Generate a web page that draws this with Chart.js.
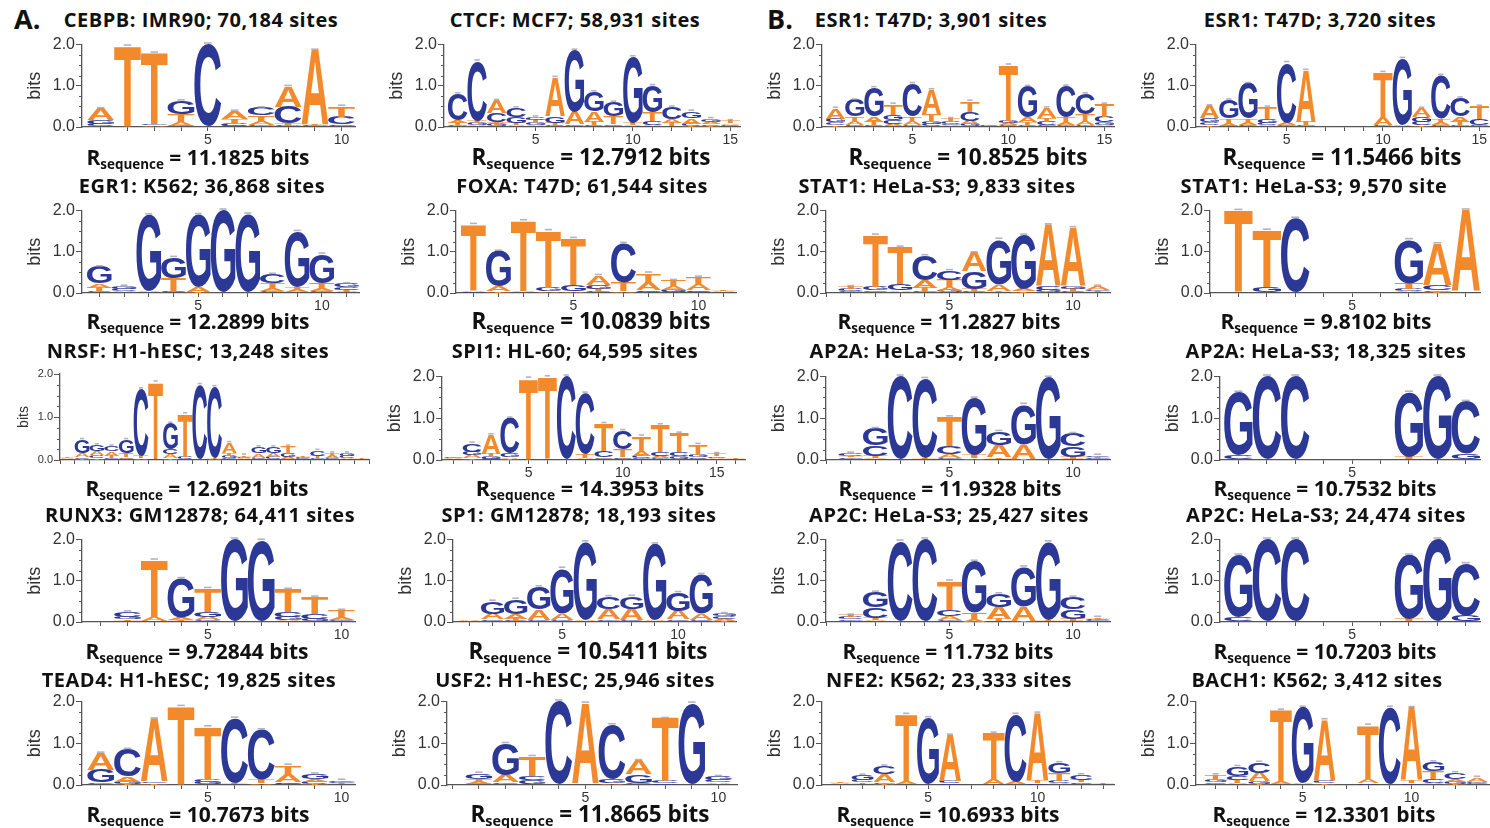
<!DOCTYPE html>
<html>
<head>
<meta charset="utf-8">
<script src="https://cdn.jsdelivr.net/npm/chart.js@4.4.1/dist/chart.umd.min.js"></script>
<style>
  html, body { margin: 0; padding: 0; background: #fff; }
  body { width: 1490px; height: 828px; position: relative; overflow: hidden; font-family: "Open Sans", sans-serif; color: #111; }
  canvas { position: absolute; }
  .ttl { position: absolute; transform: translate(-50%, -50%); white-space: nowrap; font-weight: 700; font-size: 20px; letter-spacing: 0.5px; line-height: 1; }
  .rs { position: absolute; transform: translate(-50%, -50%); white-space: nowrap; font-weight: 700; line-height: 1; }
  .rs sub { font-size: 0.64em; vertical-align: -0.3em; line-height: 0; }
  .pl { position: absolute; font-weight: 700; font-size: 27px; line-height: 1; transform: translateY(-50%); }
</style>
</head>
<body>
<div class="pl" style="left:14px; top:18px;">A.</div>
<div class="pl" style="left:767px; top:18px;">B.</div>
<script>
// Information content (bits) per position, columns ordered [A, C, G, T]
const cebpbIMR90 = [
  [0.28,0.06,0.08,0.02],[0.01,0.01,0.01,1.93],[0.03,0.01,0.03,1.72],[0.10,0.03,0.33,0.17],[0.01,1.98,0.01,0.01],
  [0.18,0.07,0.03,0.10],[0.08,0.18,0.04,0.16],[0.50,0.40,0.03,0.05],[1.80,0.02,0.02,0.02],[0.03,0.18,0.04,0.25]
];
const ctcfMCF7 = [
  [0.06,0.65,0.04,0.05],[0.05,1.45,0.05,0.05],[0.30,0.22,0.06,0.06],[0.05,0.22,0.14,0.05],[0.05,0.07,0.06,0.06],
  [0.95,0.05,0.15,0.05],[0.30,0.03,1.50,0.03],[0.25,0.04,0.48,0.08],[0.04,0.03,0.35,0.18],[0.03,0.02,1.60,0.05],
  [0.05,0.10,0.65,0.20],[0.10,0.28,0.02,0.08],[0.13,0.05,0.17,0.03],[0.06,0.04,0.07,0.03],[0.04,0.03,0.02,0.06]
];
const esr1T47D_3901 = [
  [0.25,0.07,0.08,0.05],[0.08,0.05,0.40,0.12],[0.12,0.05,0.70,0.08],[0.08,0.10,0.12,0.25],[0.08,0.80,0.05,0.12],
  [0.60,0.06,0.06,0.18],[0.04,0.06,0.04,0.06],[0.08,0.22,0.07,0.25],[0.01,0.02,0.01,0.01],[0.05,0.04,0.06,1.35],
  [0.12,0.05,0.75,0.06],[0.25,0.08,0.05,0.08],[0.07,0.75,0.05,0.12],[0.08,0.50,0.04,0.18],[0.04,0.14,0.07,0.30]
];
const esr1T47D_3720 = [
  [0.30,0.06,0.10,0.05],[0.07,0.03,0.45,0.10],[0.06,0.04,0.85,0.10],[0.04,0.06,0.10,0.28],[0.05,1.45,0.03,0.03],
  [1.25,0.02,0.02,0.08],[0,0,0,0],[0,0,0,0],[0,0,0,0],[0.18,0.02,0.02,1.10],
  [0.04,0.01,1.60,0.01],[0.20,0.08,0.12,0.05],[0.06,1.05,0.04,0.10],[0.12,0.45,0.05,0.08],[0.02,0.15,0.03,0.30]
];
const egr1K562 = [
  [0.10,0.05,0.40,0.08],[0.03,0.05,0.06,0.02],[0.02,0.01,1.85,0.01],[0.03,0.03,0.50,0.30],[0.12,0.01,1.75,0.02],
  [0.01,0.01,1.98,0.01],[0.01,0.01,1.88,0.01],[0.07,0.22,0.04,0.12],[0.05,0.02,1.35,0.07],[0.05,0.04,0.70,0.15],
  [0.03,0.06,0.08,0.05]
];
const foxaT47D = [
  [0.03,0.01,0.02,1.60],[0.12,0.01,0.85,0.03],[0.03,0.01,0.01,1.70],[0.04,0.01,0.08,1.38],[0.04,0.01,0.15,1.12],
  [0.22,0.04,0.10,0.06],[0.04,0.95,0.01,0.20],[0.18,0.03,0.04,0.23],[0.08,0.03,0.05,0.14],[0.14,0.03,0.03,0.18],
  [0.02,0.01,0.01,0.02]
];
const stat1HeLa_9833 = [
  [0.02,0.05,0.03,0.05],[0.04,0.03,0.08,1.25],[0.04,0.02,0.15,0.90],[0.18,0.60,0.04,0.08],[0.08,0.22,0.06,0.18],
  [0.45,0.04,0.42,0.06],[0.15,0.02,1.10,0.03],[0.06,0.01,1.30,0.03],[1.50,0.08,0.05,0.02],[1.42,0.04,0.07,0.05],
  [0.08,0.02,0.04,0.02]
];
const stat1HeLa_9570 = [
  [0.01,0.01,0.01,1.97],[0.01,0.01,0.13,1.37],[0.01,1.78,0.01,0.01],[0,0,0,0],[0,0,0,0],
  [0,0,0,0],[0.04,0.05,1.05,0.15],[1.00,0.12,0.04,0.03],[1.98,0.01,0.01,0.01]
];
const nrsfH1 = [
  [0.02,0.01,0.01,0.02],[0.10,0.04,0.30,0.03],[0.08,0.07,0.15,0.05],[0.10,0.12,0.04,0.06],[0.04,0.03,0.30,0.10],
  [0.04,1.55,0.01,0.05],[0.01,0.01,0.01,1.78],[0.08,0.12,0.60,0.05],[0.01,0.05,0.01,1.00],[0.01,1.72,0.01,0.01],
  [0.02,1.65,0.01,0.02],[0.25,0.04,0.05,0.06],[0.03,0.03,0.02,0.03],[0.10,0.03,0.15,0.02],[0.08,0.05,0.15,0.02],
  [0.05,0.02,0.08,0.17],[0.02,0.02,0.02,0.02],[0.02,0.12,0.03,0.05],[0.05,0.03,0.02,0.06],[0.03,0.05,0.06,0.02],
  [0.01,0.01,0.01,0.02]
];
const spi1HL60 = [
  [0.02,0.01,0.02,0.01],[0.08,0.20,0.08,0.04],[0.45,0.03,0.06,0.06],[0.04,0.85,0.08,0.03],[0.01,0.01,0.01,1.93],
  [0.01,0.01,0.01,1.96],[0.01,1.98,0.01,0.01],[0.03,1.45,0.02,0.10],[0.04,0.15,0.03,0.65],[0.03,0.45,0.04,0.18],
  [0.12,0.06,0.04,0.35],[0.05,0.10,0.04,0.65],[0.03,0.10,0.06,0.45],[0.03,0.03,0.06,0.25],[0.03,0.04,0.02,0.06],
  [0.01,0.01,0.01,0.02]
];
const ap2aHeLa_18960 = [
  [0.02,0.06,0.04,0.04],[0.05,0.25,0.40,0.05],[0.01,1.98,0.01,0.01],[0.01,1.90,0.01,0.03],[0.08,0.20,0.05,0.70],
  [0.04,0.01,1.35,0.08],[0.30,0.02,0.32,0.04],[0.35,0.01,0.95,0.02],[0.01,0.01,1.95,0.01],[0.03,0.30,0.25,0.05],
  [0.02,0.04,0.02,0.03]
];
const ap2aHeLa_18325 = [
  [0.01,0.10,1.50,0.01],[0.01,1.98,0.01,0.01],[0.01,1.98,0.01,0.01],[0,0,0,0],[0,0,0,0],
  [0,0,0,0],[0.01,0.01,1.55,0.05],[0.01,0.01,1.98,0.01],[0.01,1.25,0.13,0.01]
];
const runx3GM12878 = [
  [0.01,0.01,0.01,0.01],[0.02,0.12,0.06,0.04],[0.10,0.01,0.01,1.38],[0.05,0.02,0.95,0.03],[0.08,0.04,0.12,0.57],
  [0.01,0.01,1.98,0.01],[0.01,0.01,1.95,0.01],[0.04,0.12,0.08,0.55],[0.03,0.12,0.05,0.40],[0.05,0.03,0.02,0.18]
];
const sp1GM12878 = [
  [0.02,0.01,0.01,0.01],[0.14,0.04,0.30,0.02],[0.12,0.03,0.35,0.05],[0.25,0.03,0.55,0.02],[0.15,0.03,1.10,0.02],
  [0.02,0.01,1.90,0.01],[0.25,0.30,0.04,0.02],[0.27,0.03,0.30,0.02],[0.02,0.01,1.85,0.01],[0.20,0.04,0.45,0.02],
  [0.15,0.03,0.95,0.02],[0.05,0.06,0.06,0.03]
];
const ap2cHeLa_25427 = [
  [0.02,0.05,0.04,0.05],[0.05,0.25,0.37,0.05],[0.01,1.93,0.01,0.01],[0.01,1.98,0.01,0.01],[0.10,0.15,0.04,0.70],
  [0.06,0.01,1.25,0.15],[0.30,0.02,0.31,0.05],[0.35,0.01,0.95,0.02],[0.01,0.01,1.90,0.02],[0.03,0.30,0.22,0.05],
  [0.02,0.03,0.02,0.04]
];
const ap2cHeLa_24474 = [
  [0.01,0.10,1.50,0.01],[0.01,1.98,0.01,0.01],[0.01,1.98,0.01,0.01],[0,0,0,0],[0,0,0,0],
  [0,0,0,0],[0.01,0.01,1.55,0.05],[0.01,0.01,1.98,0.01],[0.01,1.25,0.14,0.01]
];
const tead4H1 = [
  [0.40,0.04,0.30,0.02],[0.12,0.65,0.05,0.03],[1.50,0.04,0.01,0.03],[0.01,0.01,0.01,1.85],[0.03,0.06,0.05,1.25],
  [0.01,1.55,0.01,0.03],[0.03,1.20,0.01,0.08],[0.18,0.03,0.04,0.22],[0.06,0.05,0.12,0.03],[0.02,0.04,0.03,0.02]
];
const usf2H1 = [
  [0.05,0.03,0.13,0.07],[0.18,0.04,0.75,0.02],[0.03,0.10,0.08,0.47],[0.01,1.98,0.01,0.01],[1.93,0.01,0.01,0.01],
  [0.03,1.30,0.10,0.01],[0.33,0.03,0.20,0.02],[0.01,0.05,0.03,1.50],[0.01,0.01,1.93,0.01],[0.04,0.06,0.08,0.02]
];
const nfe2K562 = [
  [0.02,0.01,0.01,0.03],[0.02,0.05,0.12,0.04],[0.18,0.20,0.04,0.03],[0.05,0.01,0.01,1.62],[0.01,0.01,1.58,0.01],
  [1.10,0.05,0.03,0.01],[0,0,0,0],[0.12,0.01,0.01,1.10],[0.05,1.62,0.01,0.01],[1.62,0.03,0.01,0.06],
  [0.04,0.06,0.25,0.18],[0.03,0.12,0.04,0.05],[0.01,0.01,0.01,0.02]
];
const bach1K562 = [
  [0.04,0.03,0.05,0.12],[0.04,0.10,0.22,0.08],[0.20,0.25,0.06,0.03],[0.05,0.01,0.01,1.72],[0.02,0.01,1.82,0.01],
  [1.45,0.06,0.01,0.04],[0.01,0.01,0.01,0.01],[0.10,0.04,0.01,1.28],[0.01,1.83,0.01,0.01],[1.75,0.03,0.01,0.06],
  [0.05,0.10,0.22,0.18],[0.06,0.15,0.05,0.03],[0.10,0.03,0.03,0.02]
];

// Panels in reading order (4 per row)
const logoData = [
  cebpbIMR90, ctcfMCF7, esr1T47D_3901, esr1T47D_3720,
  egr1K562, foxaT47D, stat1HeLa_9833, stat1HeLa_9570,
  nrsfH1, spi1HL60, ap2aHeLa_18960, ap2aHeLa_18325,
  runx3GM12878, sp1GM12878, ap2cHeLa_25427, ap2cHeLa_24474,
  tead4H1, usf2H1, nfe2K562, bach1K562
];
const motifTitles = [
  "CEBPB: IMR90; 70,184 sites", "CTCF: MCF7; 58,931 sites", "ESR1: T47D; 3,901 sites", "ESR1: T47D; 3,720 sites",
  "EGR1: K562; 36,868 sites", "FOXA: T47D; 61,544 sites", "STAT1: HeLa-S3; 9,833 sites", "STAT1: HeLa-S3; 9,570 site",
  "NRSF: H1-hESC; 13,248 sites", "SPI1: HL-60; 64,595 sites", "AP2A: HeLa-S3; 18,960 sites", "AP2A: HeLa-S3; 18,325 sites",
  "RUNX3: GM12878; 64,411 sites", "SP1: GM12878; 18,193 sites", "AP2C: HeLa-S3; 25,427 sites", "AP2C: HeLa-S3; 24,474 sites",
  "TEAD4: H1-hESC; 19,825 sites", "USF2: H1-hESC; 25,946 sites", "NFE2: K562; 23,333 sites", "BACH1: K562; 3,412 sites"
];
const rSequence = [
  "11.1825", "12.7912", "10.8525", "11.5466",
  "12.2899", "10.0839", "11.2827", "9.8102",
  "12.6921", "14.3953", "11.9328", "10.7532",
  "9.72844", "10.5411", "11.732", "10.7203",
  "10.7673", "11.8665", "10.6933", "12.3301"
];
const yTickValues = [0, 1, 2];

// Layout: [axis x, axis right end x, x-scale min, x-scale max, title centre x, R centre x, R font px]
const panelBoxes = [
  [82, 355, 0.3, 10.5, 201, 198, 21], [444, 740, 0.3, 15.5, 575, 591, 22.5], [822, 1114, 0.3, 15.5, 931, 968, 22.5], [1196, 1489, 0.3, 15.5, 1320, 1342, 22.5],
  [82, 359, 0.3, 11.5, 202, 198, 21], [456, 736, 0.3, 11.5, 582, 591, 22.5], [826, 1110, 0.0, 11.5, 937, 949, 21], [1210, 1480, 0.0, 9.5, 1314, 1326, 21],
  [60, 369, 0.5, 21.5, 188, 197, 21], [442, 745, 0.4, 16.5, 575, 590, 21.5], [826, 1110, 0.0, 11.5, 950, 950, 21], [1220, 1480, 0.35, 9.5, 1326, 1325, 21],
  [82, 355, 0.3, 10.5, 200, 197, 21], [453, 736, 0.3, 12.5, 579, 588, 22.5], [826, 1110, 0.0, 11.5, 949, 948, 21], [1220, 1480, 0.35, 9.5, 1326, 1325, 21],
  [82, 355, 0.3, 10.5, 189, 198, 21], [447, 737, -0.2, 10.7, 575, 590, 22.5], [822, 1114, 0.15, 13.5, 949, 948, 21], [1196, 1490, 0.1, 13.6, 1317, 1324, 21]
];
// Rows: [title centre y, y of 2.0, y of 0.0, R centre y]
const rowBoxes = [
  [20, 42, 127, 157], [186, 208, 293, 321], [351, 374, 460, 488], [515, 537, 622, 651], [680, 699, 785, 814]
];

const BASES = ['A', 'C', 'G', 'T'];
const BASE_COLORS = { A: '#F28A2C', T: '#F28A2C', C: '#2C3895', G: '#2C3895' };
const GLYPH_FONT = 'bold 200px "Liberation Sans", Arial, sans-serif';
const AXIS_COLOR = '#555555';
const AXIS_FONT = '"Liberation Sans", Arial, sans-serif';

const glyphInfo = {};
function glyphMetrics(ctx, L) {
  if (!glyphInfo[L]) {
    ctx.save();
    ctx.font = GLYPH_FONT;
    const m = ctx.measureText(L);
    ctx.restore();
    glyphInfo[L] = { l: m.actualBoundingBoxLeft, r: m.actualBoundingBoxRight, a: m.actualBoundingBoxAscent, d: m.actualBoundingBoxDescent };
  }
  return glyphInfo[L];
}

// Stretch one letter glyph so that it fills the box exactly
function drawLetter(ctx, L, x, y, w, h) {
  const g = glyphMetrics(ctx, L);
  ctx.save();
  ctx.translate(x, y);
  ctx.scale(w / (g.l + g.r), h / (g.a + g.d));
  ctx.font = GLYPH_FONT;
  ctx.textAlign = 'left';
  ctx.textBaseline = 'alphabetic';
  ctx.fillStyle = BASE_COLORS[L];
  ctx.fillText(L, g.l, g.a);
  ctx.restore();
}

const logoLetters = {
  id: 'logoLetters',
  afterDatasetsDraw(chart) {
    const ctx = chart.ctx;
    const area = chart.chartArea;
    ctx.save();
    ctx.beginPath();
    ctx.rect(area.left, area.top - 6, area.right - area.left, area.bottom - area.top + 6);
    ctx.clip();
    const tops = [];
    chart.data.datasets.forEach((ds, k) => {
      const meta = chart.getDatasetMeta(k);
      meta.data.forEach((el, j) => {
        const p = el.getProps(['x', 'y', 'base', 'width'], true);
        const top = Math.min(p.y, p.base);
        const h = Math.abs(p.base - p.y);
        if (k === chart.data.datasets.length - 1) tops.push({ x: p.x, y: top, w: p.width, total: chart.scales.y.getValueForPixel(top) });
        if (h < 0.5) return;
        drawLetter(ctx, ds.letters[j], p.x - p.width / 2, top, p.width, h);
      });
    });
    // small error caps on each stack
    ctx.fillStyle = 'rgba(165,165,190,0.85)';
    tops.forEach(t => {
      if (t.total < 0.1) return;
      ctx.fillRect(t.x - t.w * 0.14, t.y - 2, t.w * 0.28, 1.6);
    });
    ctx.restore();
  },
  afterDraw(chart) {
    // minor ticks on the bits axis
    const ys = chart.scales.y;
    const ctx = chart.ctx;
    ctx.save();
    ctx.strokeStyle = AXIS_COLOR;
    ctx.lineWidth = 1;
    for (let v = 0.25; v < 2; v += 0.25) {
      if (Math.abs(v - Math.round(v)) < 1e-6) continue;
      const y = Math.round(ys.getPixelForValue(v)) + 0.5;
      ctx.beginPath();
      ctx.moveTo(ys.right - 3, y);
      ctx.lineTo(ys.right, y);
      ctx.stroke();
    }
    ctx.restore();
  }
};

function buildDatasets(cols) {
  const layers = [[], [], [], []];
  const letters = [[], [], [], []];
  cols.forEach((col, j) => {
    const order = col.map((h, n) => ({ L: BASES[n], h })).sort((a, b) => a.h - b.h);
    order.forEach((o, k) => {
      layers[k].push({ x: j + 1, y: o.h });
      letters[k].push(o.L);
    });
  });
  return layers.map((data, k) => ({
    data,
    letters: letters[k],
    backgroundColor: 'rgba(0,0,0,0)',
    borderWidth: 0,
    barPercentage: 1,
    categoryPercentage: 1
  }));
}

const PADT = 8, XH = 26, PADR = 4;

logoData.forEach((cols, i) => {
  const row = Math.floor(i / 4);
  const [axisX, rightX, xMin, xMax, titleX, rX, rFont] = panelBoxes[i];
  const [titleY, topY, botY, rY] = rowBoxes[row];
  const small = (i === 8);
  const YW = small ? 44 : 58;
  const tickSize = small ? 11 : 16;
  const bitsSize = small ? 14 : 18;

  const w = rightX - axisX + YW + PADR;
  const h = botY - topY + PADT + XH;
  const canvas = document.createElement('canvas');
  canvas.width = w; canvas.height = h;
  canvas.style.left = (axisX - YW) + 'px';
  canvas.style.top = (topY - PADT) + 'px';
  canvas.style.width = w + 'px';
  canvas.style.height = h + 'px';
  document.body.appendChild(canvas);

  new Chart(canvas.getContext('2d'), {
    type: 'bar',
    data: { datasets: buildDatasets(cols) },
    options: {
      responsive: false,
      animation: false,
      devicePixelRatio: 1,
      layout: { padding: { top: PADT, right: PADR, left: 0, bottom: 0 } },
      plugins: { legend: { display: false }, tooltip: { enabled: false }, title: { display: false } },
      scales: {
        x: {
          type: 'linear', min: xMin, max: xMax, offset: false, stacked: true,
          afterFit(s) { s.height = XH; },
          grid: { display: true, drawOnChartArea: false, drawTicks: true, tickLength: 4, color: AXIS_COLOR, offset: false },
          border: { display: true, color: AXIS_COLOR, width: 1.3 },
          ticks: {
            stepSize: 1, autoSkip: false, maxRotation: 0, includeBounds: false, padding: 1,
            color: '#333', font: { family: AXIS_FONT, size: small ? 11 : 14 },
            callback: (v) => (v > 0 && v % 5 === 0) ? String(v) : ''
          }
        },
        y: {
          min: 0, max: 2, stacked: true,
          afterFit(s) { s.width = YW; },
          afterBuildTicks(s) { s.ticks = yTickValues.map(v => ({ value: v })); },
          grid: { display: true, drawOnChartArea: false, drawTicks: true, tickLength: 6, color: AXIS_COLOR },
          border: { display: true, color: AXIS_COLOR, width: 1.3 },
          ticks: {
            padding: 1, color: '#333', font: { family: AXIS_FONT, size: tickSize },
            callback: (v) => Number(v).toFixed(1)
          },
          title: { display: true, text: 'bits', color: '#333', padding: { top: 0, bottom: 0 }, font: { family: AXIS_FONT, size: bitsSize } }
        }
      }
    },
    plugins: [logoLetters]
  });

  const t = document.createElement('div');
  t.className = 'ttl';
  t.style.left = titleX + 'px';
  t.style.top = titleY + 'px';
  t.textContent = motifTitles[i];
  document.body.appendChild(t);

  const r = document.createElement('div');
  r.className = 'rs';
  r.style.left = rX + 'px';
  r.style.top = rY + 'px';
  r.style.fontSize = rFont + 'px';
  r.innerHTML = 'R<sub>sequence</sub> = ' + rSequence[i] + ' bits';
  document.body.appendChild(r);
});
</script>
</body>
</html>
